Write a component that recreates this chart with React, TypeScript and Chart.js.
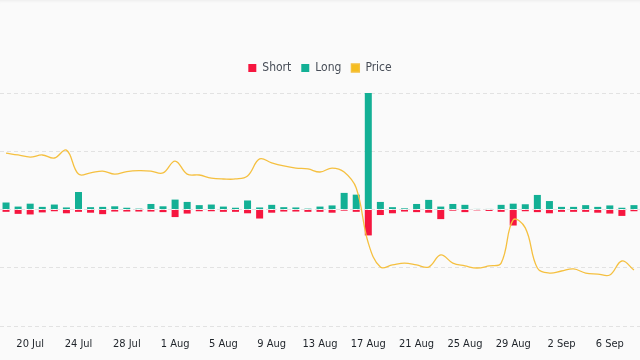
import { useEffect, useRef } from 'react';
import { Chart, registerables } from 'chart.js';

Chart.register(...registerables);

const dateLabels = [
  '18 Jul', '19 Jul', '20 Jul', '21 Jul', '22 Jul', '23 Jul', '24 Jul', '25 Jul', '26 Jul', '27 Jul',
  '28 Jul', '29 Jul', '30 Jul', '31 Jul', '1 Aug', '2 Aug', '3 Aug', '4 Aug', '5 Aug', '6 Aug',
  '7 Aug', '8 Aug', '9 Aug', '10 Aug', '11 Aug', '12 Aug', '13 Aug', '14 Aug', '15 Aug', '16 Aug',
  '17 Aug', '18 Aug', '19 Aug', '20 Aug', '21 Aug', '22 Aug', '23 Aug', '24 Aug', '25 Aug', '26 Aug',
  '27 Aug', '28 Aug', '29 Aug', '30 Aug', '31 Aug', '1 Sep', '2 Sep', '3 Sep', '4 Sep', '5 Sep',
  '6 Sep', '7 Sep', '8 Sep',
];

const longValues = [
  2.4, 1.0, 2.0, 0.9, 1.7, 0.7, 6.0, 0.8, 0.9, 1.1,
  0.6, 0.3, 1.9, 1.1, 3.4, 2.6, 1.5, 1.7, 1.0, 0.6,
  3.1, 0.7, 1.6, 0.8, 0.7, 0.3, 1.0, 1.4, 5.7, 5.1,
  40, 2.6, 0.8, 0.4, 1.9, 3.3, 1.0, 1.9, 1.6, 0.2,
  0.2, 1.6, 2.0, 1.8, 5.0, 2.9, 0.9, 0.9, 1.5, 0.9,
  1.4, 0.6, 1.5,
];

const shortValues = [
  -0.8, -1.5, -1.7, -1.0, -0.6, -1.3, -0.8, -1.1, -1.6, -0.7,
  -0.7, -0.7, -0.7, -0.9, -2.6, -1.4, -0.6, -0.6, -0.8, -0.8,
  -1.3, -3.1, -1.1, -0.7, -0.7, -0.8, -0.8, -1.1, -0.4, -0.8,
  -8.9, -1.9, -1.3, -0.7, -0.9, -1.1, -3.3, -0.4, -0.9, -0.3,
  -0.5, -0.8, -5.5, -0.6, -0.9, -1.3, -0.8, -0.8, -0.8, -1.1,
  -1.4, -2.2, -0.6,
];

const priceValues = [
  74.2, 73.4, 72.5, 73.4, 72.1, 75.5, 65.2, 65.7, 66.5, 65.2,
  66.3, 66.7, 66.5, 65.7, 70.8, 65.2, 64.8, 63.5, 63.1, 63.1,
  64.4, 71.7, 70.0, 68.7, 67.8, 67.4, 66.1, 67.8, 66.1, 59.2,
  35.6, 25.3, 26.2, 27.0, 26.2, 25.3, 30.5, 27.0, 25.8, 24.9,
  25.8, 27.0, 45.5, 42.1, 24.9, 22.7, 23.6, 24.5, 22.7, 22.3,
  21.9, 27.9, 24.0,
];

const barAxisMin = -40;
const barAxisMax = 40;
const barAxisStep = 20;
const priceAxisMin = 0;
const priceAxisMax = 100;

const FONT = "'Liberation Sans Narrow', 'DejaVu Sans Condensed', Roboto, sans-serif";

export default function App() {
  const ref = useRef<HTMLCanvasElement>(null);

  useEffect(() => {
    document.body.style.margin = '0';
    document.body.style.background = '#fafafa';
    if (!ref.current) return;

    const legendGap = {
      id: 'legendGap',
      beforeInit(chart: any) {
        const legend = chart.legend;
        if (!legend) return;
        const origFit = legend.fit;
        legend.fit = function () {
          origFit.call(this);
          this.height += 9;
        };
      },
    };

    const chart = new Chart(ref.current, {
      type: 'bar',
      data: {
        labels: dateLabels,
        datasets: [
          {
            type: 'bar',
            label: 'Short',
            data: shortValues,
            backgroundColor: '#f6163f',
            yAxisID: 'y',
            order: 1,
            barPercentage: 0.58,
            categoryPercentage: 1,
          },
          {
            type: 'bar',
            label: 'Long',
            data: longValues,
            backgroundColor: '#13b095',
            yAxisID: 'y',
            order: 1,
            barPercentage: 0.58,
            categoryPercentage: 1,
          },
          {
            type: 'line',
            label: 'Price',
            data: priceValues,
            borderColor: '#f5c040',
            backgroundColor: '#f5bd1f',
            borderWidth: 1.3,
            pointRadius: 0,
            pointHoverRadius: 0,
            tension: 0.4,
            yAxisID: 'y1',
            order: 0,
          } as any,
        ],
      },
      options: {
        responsive: false,
        animation: false,
        layout: { autoPadding: false, padding: { top: 52, bottom: 0, left: 0, right: 0 } },
        plugins: {
          legend: {
            display: true,
            position: 'top',
            labels: {
              boxWidth: 8,
              boxHeight: 8,
              padding: 10,
              color: '#474d57',
              font: { family: FONT, size: 12 },
              sort: (a: any, b: any) => a.datasetIndex - b.datasetIndex,
            },
          },
          tooltip: { enabled: false },
        },
        scales: {
          x: {
            stacked: true,
            grid: { display: false, drawTicks: false },
            border: { display: false },
            afterFit: (axis: any) => {
              axis.height = 34;
              axis.paddingLeft = 0;
              axis.paddingRight = 0;
            },
            ticks: {
              autoSkip: false,
              maxRotation: 0,
              padding: 12,
              color: '#1e2329',
              font: { family: FONT, size: 11 },
              callback: (_v: any, index: number) => (index % 4 === 2 ? dateLabels[index] : ''),
            },
          },
          y: {
            stacked: true,
            min: barAxisMin,
            max: barAxisMax,
            position: 'left',
            afterFit: (axis: any) => {
              axis.width = 0;
              axis.paddingTop = 0;
              axis.paddingBottom = 0;
            },
            ticks: { display: false, stepSize: barAxisStep },
            grid: { color: '#e2e2e2', drawTicks: false, tickLength: 0 },
            border: { display: false, dash: [4, 3] },
          },
          y1: {
            display: false,
            min: priceAxisMin,
            max: priceAxisMax,
            position: 'right',
          },
        },
      },
      plugins: [legendGap],
    } as any);

    return () => chart.destroy();
  }, []);

  return (
    <div style={{ width: 640, height: 360, position: 'relative', background: '#fafafa', boxShadow: 'inset 0 3px 3px -2px rgba(0,0,0,0.06)' }}>
      <canvas ref={ref} width={640} height={360} style={{ display: 'block' }} />
    </div>
  );
}
